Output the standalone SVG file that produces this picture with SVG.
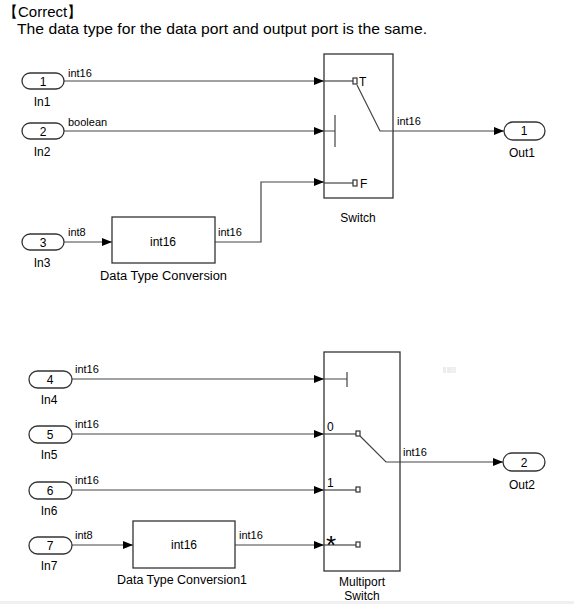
<svg xmlns="http://www.w3.org/2000/svg" width="574" height="604" viewBox="0 0 574 604">
<defs>
<marker id="ah" viewBox="0 0 10 8" refX="10" refY="4" markerWidth="10" markerHeight="8" markerUnits="userSpaceOnUse" orient="auto">
<path d="M0,0 L10,4 L0,8 Z" fill="#000"/>
</marker>
<style>
text{font-family:"Liberation Sans",Arial,sans-serif;fill:#000}
.t{font-size:15px}
.lb{font-size:11px}
.n{font-size:12px}
.c{text-anchor:middle}
.pill{fill:#fff;stroke:#333;stroke-width:1.3}
.blk{fill:#fff;stroke:#333;stroke-width:1.3}
.w{fill:none;stroke:#444;stroke-width:1.2}
.wa{fill:none;stroke:#444;stroke-width:1.2;marker-end:url(#ah)}
.in{fill:none;stroke:#444;stroke-width:1.2}
.sq{fill:#fff;stroke:#333;stroke-width:1.2}
</style>
</defs>
<rect width="574" height="604" fill="#fff"/>
<text class="t" x="3" y="17">【Correct】</text>
<text class="t" x="17" y="34" textLength="410" lengthAdjust="spacingAndGlyphs">The data type for the data port and output port is the same.</text>

<g id="connectors">
<path class="wa" d="M64,81 H324"/>
<path class="wa" d="M64,131 H324"/>
<path class="wa" d="M64,242 H112"/>
<path class="wa" d="M215,242 H261 V182 H324"/>
<path class="wa" d="M393,131 H504"/>
<path class="wa" d="M72,379 H324"/>
<path class="wa" d="M72,434 H324"/>
<path class="wa" d="M72,490 H324"/>
<path class="wa" d="M72,545 H133"/>
<path class="wa" d="M235,545 H324"/>
<path class="wa" d="M400,462 H503"/>
<text class="lb" x="68" y="77">int16</text>
<text class="lb" x="68" y="126">boolean</text>
<text class="lb" x="68" y="236">int8</text>
<text class="lb" x="218" y="236">int16</text>
<text class="lb" x="397" y="125">int16</text>
<text class="lb" x="75" y="373">int16</text>
<text class="lb" x="75" y="428">int16</text>
<text class="lb" x="75" y="484">int16</text>
<text class="lb" x="75" y="539">int8</text>
<text class="lb" x="239" y="539">int16</text>
<text class="lb" x="403" y="456">int16</text>
</g>

<g id="In1">
<rect class="pill" x="22" y="73" width="42" height="16" rx="8"/>
<text class="n c" x="43" y="86">1</text>
<text class="n c" x="42" y="106">In1</text>
</g>
<g id="In2">
<rect class="pill" x="22" y="123" width="42" height="16" rx="8"/>
<text class="n c" x="43" y="136">2</text>
<text class="n c" x="42" y="156">In2</text>
</g>
<g id="In3">
<rect class="pill" x="22" y="234" width="42" height="16" rx="8"/>
<text class="n c" x="43" y="247">3</text>
<text class="n c" x="42" y="267">In3</text>
</g>

<g id="DataTypeConversion">
<rect class="blk" x="112" y="217" width="103" height="46"/>
<text class="n c" x="163" y="246">int16</text>
<text class="n" x="100" y="280" textLength="127" lengthAdjust="spacingAndGlyphs">Data Type Conversion</text>
</g>

<g id="Switch">
<rect class="blk" x="324" y="54" width="69" height="144"/>
<path class="in" d="M324,81 H353"/>
<rect class="sq" x="353" y="78" width="4" height="6"/>
<text class="n" x="359" y="86">T</text>
<path class="in" d="M324,131 H335 M335,115 V147"/>
<path class="in" d="M324,183 H353"/>
<rect class="sq" x="353" y="180" width="4" height="6"/>
<text class="n" x="360" y="188">F</text>
<path class="in" d="M357,85 L380,131 H393"/>
<text class="n c" x="358" y="222">Switch</text>
</g>

<g id="Out1">
<rect class="pill" x="504" y="122" width="41" height="18" rx="9"/>
<text class="n c" x="524" y="135">1</text>
<text class="n c" x="522" y="157">Out1</text>
</g>

<g id="In4">
<rect class="pill" x="29" y="371" width="43" height="17" rx="8.5"/>
<text class="n c" x="50" y="384">4</text>
<text class="n c" x="49" y="404">In4</text>
</g>
<g id="In5">
<rect class="pill" x="29" y="426" width="43" height="17" rx="8.5"/>
<text class="n c" x="50" y="439">5</text>
<text class="n c" x="49" y="459">In5</text>
</g>
<g id="In6">
<rect class="pill" x="29" y="482" width="43" height="17" rx="8.5"/>
<text class="n c" x="50" y="495">6</text>
<text class="n c" x="49" y="515">In6</text>
</g>
<g id="In7">
<rect class="pill" x="29" y="537" width="43" height="17" rx="8.5"/>
<text class="n c" x="50" y="550">7</text>
<text class="n c" x="49" y="570">In7</text>
</g>

<g id="DataTypeConversion1">
<rect class="blk" x="133" y="521" width="102" height="47"/>
<text class="n c" x="184" y="549">int16</text>
<text class="n" x="117" y="584" textLength="130" lengthAdjust="spacingAndGlyphs">Data Type Conversion1</text>
</g>

<g id="MultiportSwitch">
<rect class="blk" x="324" y="352" width="76" height="219"/>
<path class="in" d="M324,379 H347 M347,372 V387"/>
<path class="in" d="M324,434 H356"/>
<rect class="sq" x="356" y="431" width="4" height="5"/>
<text class="n" x="327" y="431">0</text>
<path class="in" d="M360,436 L386,462 H400"/>
<path class="in" d="M324,490 H356"/>
<rect class="sq" x="356" y="487" width="4" height="5"/>
<text class="n" x="327" y="487">1</text>
<path class="in" d="M324,545 H356"/>
<rect class="sq" x="356" y="542" width="4" height="5"/>
<text style="font-size:26px" x="326" y="554">*</text>
<text class="n c" x="362" y="586">Multiport</text>
<text class="n c" x="362" y="600">Switch</text>
</g>

<g id="Out2">
<rect class="pill" x="503" y="453" width="42" height="18" rx="9"/>
<text class="n c" x="524" y="467">2</text>
<text class="n c" x="522" y="489">Out2</text>
</g>

<rect x="443" y="367" width="3" height="6" fill="#ececec"/>
<rect x="447" y="367" width="3" height="6" fill="#ececec"/>
<rect x="450" y="367" width="6" height="6" fill="#f0f0f0"/>
<rect x="0" y="601" width="574" height="3" fill="#f0f0f0"/>
</svg>
